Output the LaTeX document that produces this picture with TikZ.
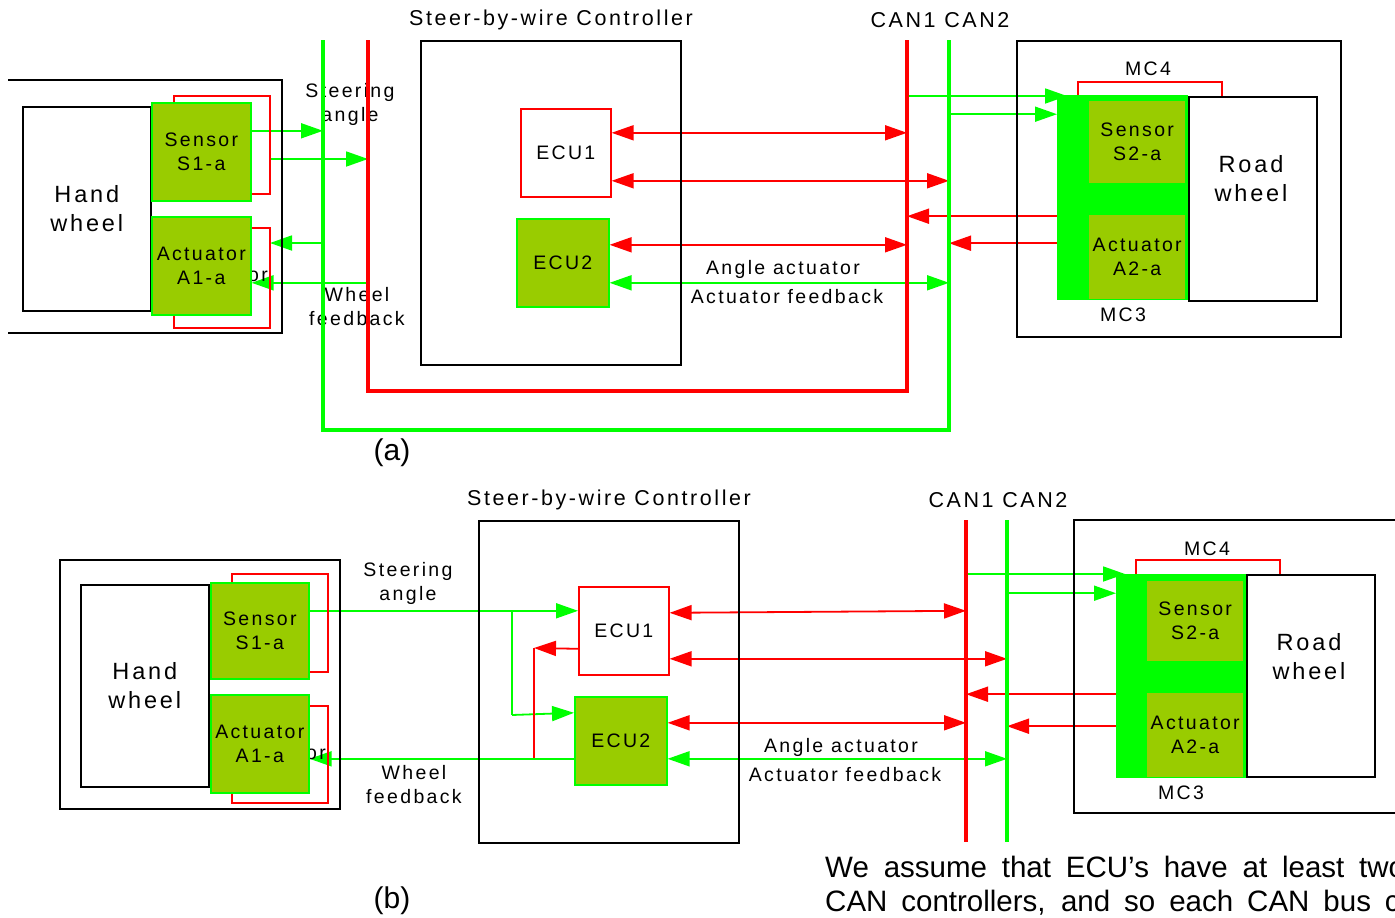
\documentclass[tikz,border=0pt]{standalone}
\usepackage{fontspec}
\setmainfont{Liberation Sans}
\newfontfamily\spaced[LetterSpace=12]{Liberation Sans}
\usetikzlibrary{arrows.meta}
\pgfdeclarelayer{paper}
\pgfdeclarelayer{wires}
\pgfsetlayers{paper,wires,main}

\definecolor{cangreen}{RGB}{0,255,0}
\definecolor{canred}{RGB}{255,0,0}
\definecolor{unitfill}{RGB}{153,204,0}

\newcommand\boxfont{\spaced\fontsize{19.5}{24}\selectfont}
\newcommand\bigfont{\spaced\fontsize{23.5}{29}\selectfont}
\newcommand\titlefont{\spaced\fontsize{21.5}{25}\selectfont}
\newcommand\plainfont{\fontsize{30}{34}\selectfont}
\newcommand\parafont{\fontsize{29.5}{34}\selectfont}

\begin{document}
\begin{tikzpicture}[x=1pt,y=-1pt,
  frame/.style={draw=black,line width=1.6pt},
  nw/.style={anchor=north west,inner sep=0pt},
  wheelbox/.style={frame,nw,fill=white,minimum width=128pt,align=center,font=\bigfont},
  unit/.style={nw,fill=unitfill,draw=cangreen,line width=1.6pt,align=center,font=\boxfont},
  subunit/.style={nw,fill=unitfill,align=center,font=\boxfont},
  ecubox/.style={nw,fill=white,draw=canred,line width=1.6pt,font=\boxfont},
  mcblock/.style={nw,fill=cangreen},
  txt/.style={font=\boxfont,align=center,inner sep=0pt},
  redline/.style={draw=canred,line width=1.6pt},
  bus/.style={line width=3.5pt,line join=miter},
  gw/.style={draw=cangreen,line width=1.8pt},
  rw/.style={draw=canred,line width=1.8pt},
  tip/.style={-{Triangle[length=22pt,width=15pt]}},
  both/.style={{Triangle[length=22pt,width=15pt]}-{Triangle[length=22pt,width=15pt]}}
]
\useasboundingbox (0,0) rectangle (1395,918);
\begin{pgfonlayer}{paper}
\fill[white] (0,0) rectangle (1395,918);
\end{pgfonlayer}

%================ (a) both buses loop round the controller ================
% hand wheel side
\draw[frame] (8,80) -- (282,80) -- (282,333) -- (8,333);
\node[wheelbox,minimum height=204pt] (hwa) at (22,106) {Hand\\wheel};
\draw[redline] (174,102) -- (174,96) -- (270,96) -- (270,194) -- (250,194);
\draw[redline] (250,228) -- (270,228) -- (270,328) -- (174,328) -- (174,314);
\node[txt] (ora) at (258,276) {or};
\node[unit,minimum width=99pt,minimum height=98pt] (s1a) at (151,102) {Sensor\\S1-a};
\node[unit,minimum width=99pt,minimum height=98pt] (a1a) at (151,216) {Actuator\\A1-a};
\coordinate (s1outa) at (270,159);
\coordinate (a1ina) at (270,243);

\node[txt] (stla) at (350,104) {Steering\\angle};
\node[txt] (wfla) at (357,307) {Wheel\\feedback};

% controller
\node[txt,font=\titlefont] (ttla) at (551,20) {Steer-by-wire Controller};
\node[frame,nw,minimum width=260pt,minimum height=324pt] (ctla) at (420,40) {};
\node[ecubox,minimum width=90pt,minimum height=88pt] (e1a) at (520,108) {ECU1};
\node[unit,minimum width=92pt,minimum height=88pt] (e2a) at (516,218) {ECU2};
\node[txt] (aaa) at (783,269) {Angle actuator};
\node[txt] (afa) at (787,297) {Actuator feedback};

% buses
\node[txt,font=\titlefont] (cana) at (940,20) {CAN1 CAN2};
\draw[bus,canred] (368,40) -- (368,391) -- (907,391) -- (907,40);
\draw[bus,cangreen] (323,40) -- (323,430) -- (949,430) -- (949,40);
\coordinate (c1La) at (368,40);
\coordinate (c2La) at (323,40);
\coordinate (c1Ra) at (907,40);
\coordinate (c2Ra) at (949,40);

% road wheel side
\node[frame,nw,minimum width=324pt,minimum height=296pt] (rba) at (1016,40) {};
\draw[redline] (1078,95) -- (1078,82) -- (1222,82) -- (1222,96);
\node[mcblock,minimum width=131pt,minimum height=205pt] (mca) at (1057,95) {};
\node[subunit,minimum width=96pt,minimum height=82pt] (s2a) at (1089,101) {Sensor\\S2-a};
\node[subunit,minimum width=96pt,minimum height=84pt] (a2a) at (1089,215) {Actuator\\A2-a};
\node[wheelbox,minimum height=204pt] (rwa) at (1188,96) {};
\node[txt,font=\bigfont] (rwta) at (1251,179) {Road\\wheel};
\node[txt] (mc4a) at (1148,69) {MC4};
\node[txt] (mc3a) at (1123,315) {MC3};
\coordinate (mcina) at (1067,96);

\node[font=\plainfont] (capa) at (392,453) {(a)};

%================ (b) buses run straight ================
\draw[frame] (60,560) rectangle (340,809);
\node[wheelbox,minimum height=202pt] (hwb) at (80,584) {Hand\\wheel};
\draw[redline] (232,582) -- (232,574) -- (328,574) -- (328,672) -- (308,672);
\draw[redline] (308,706) -- (328,706) -- (328,803) -- (232,803) -- (232,792);
\node[txt] (orb) at (316,754) {or};
\node[unit,minimum width=98pt,minimum height=96pt] (s1b) at (210,582) {Sensor\\S1-a};
\node[unit,minimum width=98pt,minimum height=98pt] (a1b) at (210,694) {Actuator\\A1-a};

\node[txt] (stlb) at (408,583) {Steering\\angle};
\node[txt] (wflb) at (414,785) {Wheel\\feedback};

\node[txt,font=\titlefont] (ttlb) at (609,500) {Steer-by-wire Controller};
\node[frame,nw,minimum width=260pt,minimum height=322pt] (ctlb) at (478,520) {};
\node[ecubox,minimum width=90pt,minimum height=88pt] (e1b) at (578,586) {ECU1};
\node[unit,minimum width=92pt,minimum height=88pt] (e2b) at (574,696) {ECU2};
\node[txt] (aab) at (841,747) {Angle actuator};
\node[txt] (afb) at (845,775) {Actuator feedback};
\coordinate (jb) at (512,610);
\coordinate (jb2) at (512,715);
\coordinate (rb) at (534,648);
\coordinate (rb2) at (534,758);

\node[txt,font=\titlefont] (canb) at (998,500) {CAN1 CAN2};
\draw[bus,canred] (966,520) -- (966,842);
\draw[bus,cangreen] (1007,520) -- (1007,842);
\coordinate (c1b) at (966,520);
\coordinate (c2b) at (1007,520);

\draw[frame] (1400,520) -- (1074,520) -- (1074,813) -- (1400,813);
\draw[redline] (1136,574) -- (1136,560) -- (1280,560) -- (1280,574);
\node[mcblock,minimum width=130pt,minimum height=204pt] (mcb) at (1116,574) {};
\node[subunit,minimum width=96pt,minimum height=80pt] (s2b) at (1147,581) {Sensor\\S2-a};
\node[subunit,minimum width=96pt,minimum height=84pt] (a2b) at (1147,693) {Actuator\\A2-a};
\node[wheelbox,minimum height=202pt] (rwb) at (1246,574) {};
\node[txt,font=\bigfont] (rwtb) at (1309,657) {Road\\wheel};
\node[txt] (mc4b) at (1207,549) {MC4};
\node[txt] (mc3b) at (1181,793) {MC3};
\coordinate (mcinb) at (1125,574);

\node[font=\plainfont] (capb) at (392,901) {(b)};

% running text, justified and cut by the right margin
\node[font=\parafont,anchor=base west,inner sep=0pt] (para1) at (825,877)
  {\makebox[580pt][s]{We assume that ECU’s have at least two}};
\node[font=\parafont,anchor=base west,inner sep=0pt] (para2) at (825,911)
  {\makebox[591pt][s]{CAN controllers, and so each CAN bus co}};

%================ connectors ================
\begin{pgfonlayer}{wires}
% (a)
\draw[gw,tip] ([yshift=21pt]s1a.east) -- ([yshift=21pt]s1a.east -| c2La);
\draw[gw,tip] (s1outa) -- (s1outa -| c1La);
\draw[gw,tip] (a1ina -| c2La) -- (a1ina);
\draw[gw,tip] ([yshift=-17pt]a1a.east -| c1La) -- ([yshift=-17pt]a1a.east);
\draw[rw,both] ([yshift=20pt]e1a.east) -- ([yshift=20pt]e1a.east -| c1Ra);
\draw[rw,both] ([yshift=-28pt]e1a.east) -- ([yshift=-28pt]e1a.east -| c2Ra);
\draw[rw,both] ([yshift=18pt]e2a.east) -- ([yshift=18pt]e2a.east -| c1Ra);
\draw[gw,both] ([yshift=-20pt]e2a.east) -- ([yshift=-20pt]e2a.east -| c2Ra);
\draw[rw,tip] ([yshift=-18.5pt]mca.west) -- ([yshift=-18.5pt]mca.west -| c1Ra);
\draw[rw,tip] ([yshift=-45.5pt]mca.west) -- ([yshift=-45.5pt]mca.west -| c2Ra);
\draw[gw,tip] (c1Ra |- mcina) -- (mcina);
\draw[gw,tip] ([yshift=83.5pt]mca.west -| c2Ra) -- ([yshift=83.5pt]mca.west);
% (b)
\draw[gw,tip] ([yshift=20pt]s1b.east) -- ([yshift=20pt]e1b.west);
\draw[gw] (jb) -- (jb2);
\draw[gw,tip] (jb2) -- ([yshift=28pt]e2b.west);
\draw[gw,tip] ([yshift=-18pt]e2b.west) -- ([yshift=-15pt]a1b.east);
\draw[rw,tip] ([yshift=-18pt]e1b.west) -- (rb);
\draw[rw] (rb) -- (rb2);
\draw[rw,both] ([yshift=18pt]e1b.east) -- ([yshift=20pt]e1b.east -| c1b);
\draw[rw,both] ([yshift=-28pt]e1b.east) -- ([yshift=-28pt]e1b.east -| c2b);
\draw[rw,both] ([yshift=18pt]e2b.east) -- ([yshift=18pt]e2b.east -| c1b);
\draw[gw,both] ([yshift=-18pt]e2b.east) -- ([yshift=-18pt]e2b.east -| c2b);
\draw[rw,tip] ([yshift=-18pt]mcb.west) -- ([yshift=-18pt]mcb.west -| c1b);
\draw[rw,tip] ([yshift=-50pt]mcb.west) -- ([yshift=-50pt]mcb.west -| c2b);
\draw[gw,tip] (c1b |- mcinb) -- (mcinb);
\draw[gw,tip] ([yshift=83pt]mcb.west -| c2b) -- ([yshift=83pt]mcb.west);
\end{pgfonlayer}
\end{tikzpicture}
\end{document}
